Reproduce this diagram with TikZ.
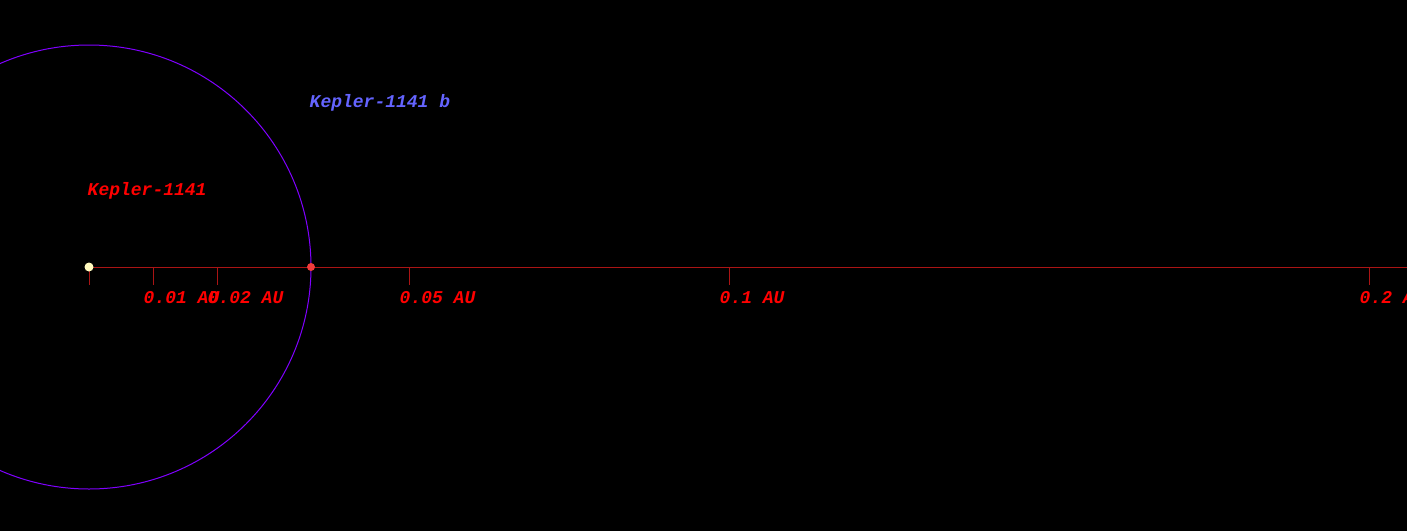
\documentclass[tikz,border=0pt]{standalone}
\usepackage{fontspec}
\newfontfamily\monofnt{Liberation Mono}[BoldItalicFont={* Bold Italic}]
\definecolor{axisred}{RGB}{170,20,20}
\definecolor{orbitpurple}{RGB}{128,0,255}
\definecolor{planetblue}{RGB}{100,100,255}
\definecolor{starcol}{RGB}{255,250,190}
\definecolor{planetcol}{RGB}{240,60,60}
\begin{document}
\begin{tikzpicture}[x=1pt,y=-1pt,
  lbl/.style={font=\monofnt\bfseries\itshape\fontsize{18}{18}\selectfont, inner sep=0pt, anchor=base west},
  tickline/.style={draw=axisred, line width=0.8pt},
  axisline/.style={draw=axisred, line width=0.8pt},
  orbit/.style={draw=orbitpurple, line width=1pt}]
\fill[black] (0,0) rectangle (1407,531);
\useasboundingbox (0,0) rectangle (1407,531);
\clip (0,0) rectangle (1407,531);
\coordinate (axend) at (1407,267);
% axis
\draw[axisline] (89,267) -- (axend);
% ticks
\foreach \x/\t in {89/t0,153/t1,217/t2,409/t5,729/t10,1369/t20}{
  \coordinate (\t) at (\x,267);
  \coordinate (\t e) at (\x,285);
  \draw[tickline] (\t) -- (\t e);
}
% orbit
\node[circle, minimum size=444pt, inner sep=0pt, orbit] (orb) at (89,267) {};
% star and planet
\node[circle, fill=starcol, minimum size=9pt, inner sep=0pt] (star) at (89,267) {};
\node[circle, fill=planetcol, minimum size=8pt, inner sep=0pt] (planet) at (311,267) {};
% labels
\node[lbl, text=red] (l1) at (143.5,303) {0.01 AU};
\node[lbl, text=red] (l2) at (207.5,303) {0.02 AU};
\node[lbl, text=red] (l5) at (399.5,303) {0.05 AU};
\node[lbl, text=red] (l10) at (719.5,303) {0.1 AU};
\node[lbl, text=red] (l20) at (1359.5,303) {0.2 AU};
\node[lbl, text=red] (sname) at (87.5,195) {Kepler-1141};
\node[lbl, text=planetblue] (pname) at (309.5,107) {Kepler-1141 b};
\end{tikzpicture}
\end{document}
